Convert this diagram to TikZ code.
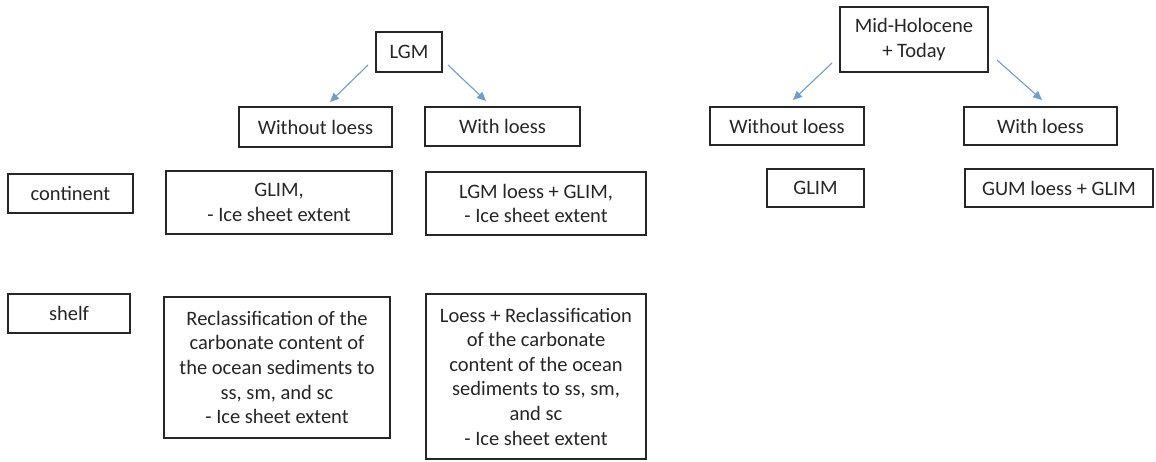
\documentclass[tikz,border=0pt]{standalone}
\usepackage{fontspec}
\setmainfont{Carlito}
\usetikzlibrary{arrows.meta}
\definecolor{arrowblue}{HTML}{6A9FD0}
\definecolor{boxline}{HTML}{262626}
\definecolor{txt}{HTML}{262626}
\begin{document}
\begin{tikzpicture}[x=1pt,y=-1pt,
  box/.style={draw=boxline,line width=1.1pt,inner sep=0pt,align=center,
    text=txt,font=\fontsize{20.5}{24.6}\selectfont},
  flow/.style={draw=arrowblue,line width=1.1pt,-{Triangle[width=8pt,length=9pt]}}]
\useasboundingbox (0,0) rectangle (1156,461);
% top level
\node[box,minimum width=66pt,minimum height=40pt] (lgm) at (409,52) {LGM};
\node[box,minimum width=148pt,minimum height=65pt] (mh) at (914,39.5) {Mid-Holocene\\+ Today};
% second level
\node[box,minimum width=153pt,minimum height=40pt] (wo1) at (315.5,127) {Without loess};
\node[box,minimum width=155pt,minimum height=39pt] (w1) at (502.5,126.5) {With loess};
\node[box,minimum width=154pt,minimum height=38pt] (wo2) at (787,126) {Without loess};
\node[box,minimum width=153pt,minimum height=38pt] (w2) at (1040.5,126) {With loess};
% row labels
\node[box,minimum width=125pt,minimum height=39pt] (cont) at (70.5,193.5) {continent};
\node[box,minimum width=122pt,minimum height=39pt] (shelf) at (69,313.5) {shelf};
% continent row
\node[box,minimum width=226pt,minimum height=63pt] (glimA) at (279,202.5) {GLIM,\\- Ice sheet extent};
\node[box,minimum width=220pt,minimum height=63pt] (lgmloess) at (536,203.5) {LGM loess + GLIM,\\- Ice sheet extent};
\node[box,minimum width=97pt,minimum height=38pt] (glimB) at (815.5,188) {GLIM};
\node[box,minimum width=188pt,minimum height=38pt] (gum) at (1059,188) {GUM loess + GLIM};
% shelf row
\node[box,minimum width=226pt,minimum height=141pt] (recl) at (277,367.5)
  {Reclassification of the\\carbonate content of\\the ocean sediments to\\ss, sm, and sc\\- Ice sheet extent};
\node[box,minimum width=220pt,minimum height=165pt] (loessrecl) at (536,376.5)
  {Loess + Reclassification\\of the carbonate\\content of the ocean\\sediments to ss, sm,\\and sc\\- Ice sheet extent};
% arrows
\coordinate (a1s) at (368,65);
\coordinate (a1e) at (330,102);
\coordinate (a2s) at (448,65);
\coordinate (a2e) at (486,101);
\coordinate (a3s) at (832,63);
\coordinate (a3e) at (793,100);
\coordinate (a4s) at (997,60);
\coordinate (a4e) at (1042,100);
\draw[flow] (a1s) -- (a1e);
\draw[flow] (a2s) -- (a2e);
\draw[flow] (a3s) -- (a3e);
\draw[flow] (a4s) -- (a4e);
\end{tikzpicture}
\end{document}
